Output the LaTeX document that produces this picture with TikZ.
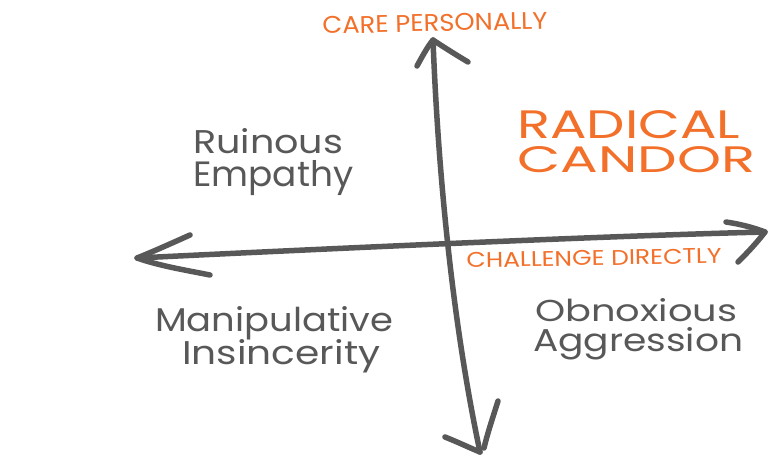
\documentclass[tikz,border=0pt]{standalone}
\usepackage{fontspec}
\setmainfont{Poppins}
\usepackage{graphicx}

\definecolor{pen}{RGB}{88,88,88}
\definecolor{accent}{RGB}{242,112,42}

% scale a word into a box of given width and height (in pt)
\newcommand\fitword[3]{\resizebox{#1pt}{#2pt}{#3}}

\tikzset{
  stroke/.style={draw=pen, line width=5.5pt, line cap=round, line join=round},
  label/.style={inner sep=0pt, anchor=base west, text=pen},
  axislabel/.style={inner sep=0pt, text=accent},
  title/.style={inner sep=0pt, anchor=base west, text=accent},
}

\begin{document}
\begin{tikzpicture}[x=1pt,y=-1pt]
  \useasboundingbox[fill=white] (0,0) rectangle (768,461);

  % axis end points
  \coordinate (top) at (433,40);
  \coordinate (bottom) at (480,452);
  \coordinate (left) at (137,258);
  \coordinate (right) at (765,232);

  % vertical axis: care personally
  \draw[stroke] (top) .. controls (438,170) and (452,320) .. (bottom);
  \draw[stroke] (417,66) .. controls (423,55) and (428,46) .. (top)
                .. controls (445,48) and (458,56) .. (468,62);
  \draw[stroke] (445,437) .. controls (460,443) and (470,448) .. (bottom);
  \draw[stroke] (498,401) .. controls (492,420) and (487,435) .. (484,448);

  % horizontal axis: challenge directly
  \draw[stroke] (left) .. controls (300,250) and (600,236) .. (right);
  \draw[stroke] (190,235) .. controls (170,244) and (152,252) .. (left)
                .. controls (160,266) and (185,270) .. (210,275);
  \draw[stroke] (726,222) .. controls (740,224) and (755,228) .. (right)
                .. controls (755,245) and (745,255) .. (738,262);

  % axis labels
  \node[axislabel, rotate=1.3] (care) at (435,23) {\fitword{225}{17}{CARE PERSONALLY}};
  \node[axislabel, rotate=1.1] (challenge) at (594,258) {\fitword{255}{15}{CHALLENGE DIRECTLY}};

  % quadrant labels
  \node[title] (radical) at (517,138) {\fitword{223}{28}{RADICAL}};
  \node[title] (candor) at (517,172) {\fitword{238}{26}{CANDOR}};

  \node[label] (ruinous) at (193,153) {\fitword{150}{25}{Ruinous}};
  \node[label] (empathy) at (193,186) {\fitword{160}{26}{Empathy}};

  \node[label] (manip) at (155,331) {\fitword{238}{25}{Manipulative}};
  \node[label] (insinc) at (182,364) {\fitword{198}{25}{Insincerity}};

  \node[label] (obnox) at (535,321) {\fitword{202}{23}{Obnoxious}};
  \node[label] (aggr) at (533,351) {\fitword{210}{24}{Aggression}};
\end{tikzpicture}
\end{document}
